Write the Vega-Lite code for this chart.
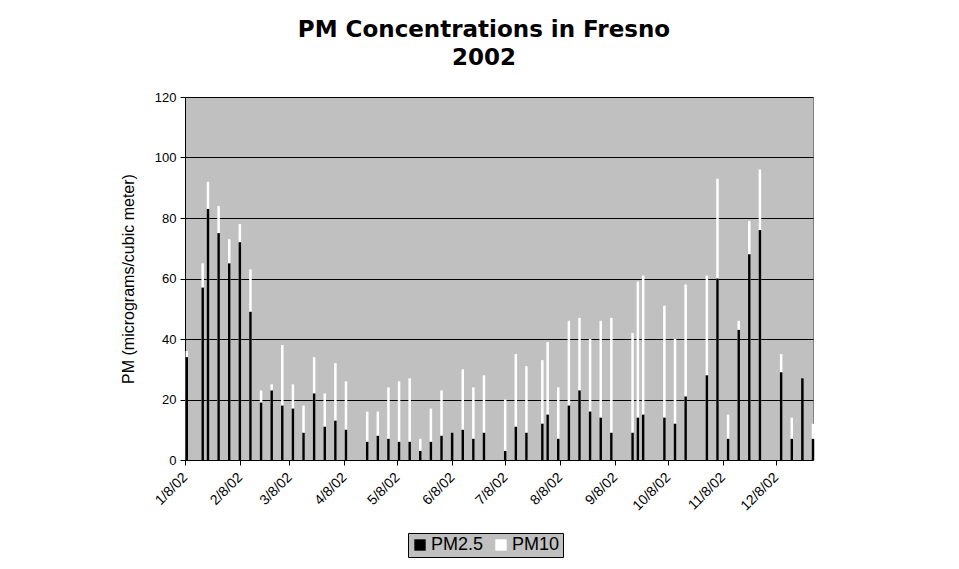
{
  "$schema": "https://vega.github.io/schema/vega-lite/v6.json",
  "width": 628,
  "height": 363,
  "autosize": "none",
  "padding": {"left": 185, "top": 97, "right": 146, "bottom": 109},
  "background": "white",
  "title": {
    "text": ["PM Concentrations in Fresno", "2002"],
    "font": "DejaVu Sans",
    "fontSize": 23,
    "fontWeight": "bold",
    "color": "black",
    "anchor": "middle",
    "lineHeight": 28,
    "offset": 21,
    "dx": -15
  },
  "data": {
    "values": [
      {"date": "2002-01-09", "pm25": 34, "pm10": 36},
      {"date": "2002-01-18", "pm25": 57, "pm10": 65},
      {"date": "2002-01-21", "pm25": 83, "pm10": 92},
      {"date": "2002-01-27", "pm25": 75, "pm10": 84},
      {"date": "2002-02-02", "pm25": 65, "pm10": 73},
      {"date": "2002-02-08", "pm25": 72, "pm10": 78},
      {"date": "2002-02-14", "pm25": 49, "pm10": 63},
      {"date": "2002-02-20", "pm25": 19, "pm10": 23},
      {"date": "2002-02-26", "pm25": 23, "pm10": 25},
      {"date": "2002-03-04", "pm25": 18, "pm10": 38},
      {"date": "2002-03-10", "pm25": 17, "pm10": 25},
      {"date": "2002-03-16", "pm25": 9, "pm10": 18},
      {"date": "2002-03-22", "pm25": 22, "pm10": 34},
      {"date": "2002-03-28", "pm25": 11, "pm10": 22},
      {"date": "2002-04-03", "pm25": 13, "pm10": 32},
      {"date": "2002-04-09", "pm25": 10, "pm10": 26},
      {"date": "2002-04-21", "pm25": 6, "pm10": 16},
      {"date": "2002-04-27", "pm25": 8, "pm10": 16},
      {"date": "2002-05-03", "pm25": 7, "pm10": 24},
      {"date": "2002-05-09", "pm25": 6, "pm10": 26},
      {"date": "2002-05-15", "pm25": 6, "pm10": 27},
      {"date": "2002-05-21", "pm25": 3, "pm10": 7},
      {"date": "2002-05-27", "pm25": 6, "pm10": 17},
      {"date": "2002-06-02", "pm25": 8, "pm10": 23},
      {"date": "2002-06-08", "pm25": 9, "pm10": null},
      {"date": "2002-06-14", "pm25": 10, "pm10": 30},
      {"date": "2002-06-20", "pm25": 7, "pm10": 24},
      {"date": "2002-06-26", "pm25": 9, "pm10": 28},
      {"date": "2002-07-08", "pm25": 3, "pm10": 20},
      {"date": "2002-07-14", "pm25": 11, "pm10": 35},
      {"date": "2002-07-20", "pm25": 9, "pm10": 31},
      {"date": "2002-07-29", "pm25": 12, "pm10": 33},
      {"date": "2002-08-01", "pm25": 15, "pm10": 39},
      {"date": "2002-08-07", "pm25": 7, "pm10": 24},
      {"date": "2002-08-13", "pm25": 18, "pm10": 46},
      {"date": "2002-08-19", "pm25": 23, "pm10": 47},
      {"date": "2002-08-25", "pm25": 16, "pm10": 40},
      {"date": "2002-08-31", "pm25": 14, "pm10": 46},
      {"date": "2002-09-06", "pm25": 9, "pm10": 47},
      {"date": "2002-09-18", "pm25": 9, "pm10": 42},
      {"date": "2002-09-21", "pm25": 14, "pm10": 59},
      {"date": "2002-09-24", "pm25": 15, "pm10": 61},
      {"date": "2002-10-06", "pm25": 14, "pm10": 51},
      {"date": "2002-10-12", "pm25": 12, "pm10": 40},
      {"date": "2002-10-18", "pm25": 21, "pm10": 58},
      {"date": "2002-10-30", "pm25": 28, "pm10": 61},
      {"date": "2002-11-05", "pm25": 60, "pm10": 93},
      {"date": "2002-11-11", "pm25": 7, "pm10": 15},
      {"date": "2002-11-17", "pm25": 43, "pm10": 46},
      {"date": "2002-11-23", "pm25": 68, "pm10": 79},
      {"date": "2002-11-29", "pm25": 76, "pm10": 96},
      {"date": "2002-12-11", "pm25": 29, "pm10": 35},
      {"date": "2002-12-17", "pm25": 7, "pm10": 14},
      {"date": "2002-12-23", "pm25": 27, "pm10": null},
      {"date": "2002-12-29", "pm25": 7, "pm10": 12}
    ]
  },
  "encoding": {
    "x": {
      "field": "date",
      "type": "temporal",
      "scale": {"type": "utc", "padding": 0, "domain": [{"year": 2002, "month": 1, "date": 8, "utc": true}, {"year": 2002, "month": 12, "date": 29, "utc": true}]},
      "axis": {
        "title": null,
        "values": [
          {"year": 2002, "month": 1, "date": 8, "utc": true},
          {"year": 2002, "month": 2, "date": 8, "utc": true},
          {"year": 2002, "month": 3, "date": 8, "utc": true},
          {"year": 2002, "month": 4, "date": 8, "utc": true},
          {"year": 2002, "month": 5, "date": 8, "utc": true},
          {"year": 2002, "month": 6, "date": 8, "utc": true},
          {"year": 2002, "month": 7, "date": 8, "utc": true},
          {"year": 2002, "month": 8, "date": 8, "utc": true},
          {"year": 2002, "month": 9, "date": 8, "utc": true},
          {"year": 2002, "month": 10, "date": 8, "utc": true},
          {"year": 2002, "month": 11, "date": 8, "utc": true},
          {"year": 2002, "month": 12, "date": 8, "utc": true}
        ],
        "labelExpr": "utcFormat(datum.value, '%-m/%-d/%y')",
        "labelAngle": -45,
        "labelAlign": "right",
        "labelBaseline": "middle",
        "labelPadding": 10,
        "labelFontSize": 14,
        "labelFlush": false,
        "labelOverlap": false,
        "grid": false,
        "tickSize": 5
      }
    }
  },
  "layer": [
    {
      "mark": {"type": "bar", "width": 2.5, "clip": false},
      "encoding": {
        "y": {"field": "pm10", "type": "quantitative"},
        "color": {"datum": "PM10"}
      }
    },
    {
      "mark": {"type": "bar", "width": 2.5, "clip": false},
      "encoding": {
        "y": {
          "field": "pm25",
          "type": "quantitative",
          "scale": {"domain": [0, 120], "nice": false},
          "axis": {
            "title": "PM (micrograms/cubic meter)",
            "values": [0, 20, 40, 60, 80, 100, 120],
            "tickSize": 5,
            "labelPadding": 4,
            "titlePadding": 18,
            "titleFontSize": 16
          }
        },
        "color": {
          "datum": "PM2.5",
          "scale": {"domain": ["PM2.5", "PM10"], "range": ["black", "white"]},
          "legend": {
            "title": null,
            "orient": "none",
            "direction": "horizontal",
            "legendX": 223,
            "legendY": 436,
            "symbolType": "square",
            "symbolSize": 130,
            "symbolStrokeWidth": 0,
            "symbolOpacity": 1,
            "labelFontSize": 18,
            "labelFont": "Liberation Sans",
            "labelColor": "black",
            "columnPadding": 8,
            "labelOffset": 2,
            "fillColor": "#C0C0C0",
            "strokeColor": "black",
            "padding": 3
          }
        }
      }
    }
  ],
  "config": {
    "view": {"fill": "#C0C0C0", "stroke": "#808080", "strokeWidth": 1},
    "axis": {
      "labelFont": "Liberation Sans",
      "labelFontSize": 13,
      "labelColor": "black",
      "titleFont": "Liberation Sans",
      "titleFontSize": 13,
      "titleFontWeight": "normal",
      "titleColor": "black",
      "domainColor": "black",
      "tickColor": "black",
      "gridColor": "black",
      "gridOpacity": 1,
      "gridWidth": 1
    }
  }
}
